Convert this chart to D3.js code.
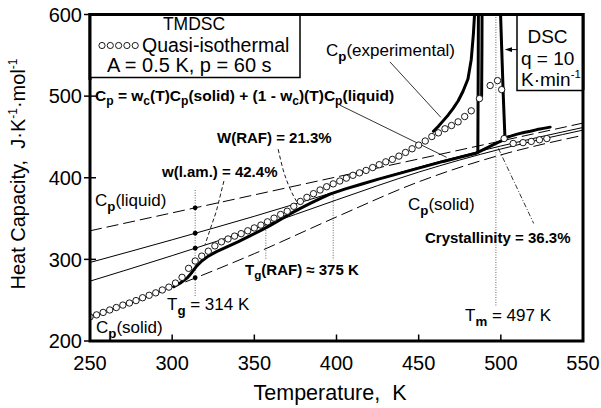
<!DOCTYPE html>
<html>
<head>
<meta charset="utf-8">
<script src="https://cdn.jsdelivr.net/npm/d3@7"></script>
<style>
  body { margin: 0; background: #fff; }
  text { font-family: Arial, "Liberation Sans", Helvetica, sans-serif; white-space: pre; fill: #000; }
</style>
</head>
<body>
<svg id="chart" width="601" height="408"></svg>
<script>
// ---- data ----
const xTicks = [250, 300, 350, 400, 450, 500, 550];
const yTicks = [200, 300, 400, 500, 600];

// baselines, all on the same temperature grid
const gridT = [250, 300, 350, 400, 450, 500, 550];
const cpLiquid = [335, 357, 379, 401, 423, 445, 467];
const cpSolid = [228, 266, 307, 352, 395, 428, 452];
const cpTwoPhase = [296.2, 324.0, 352.8, 383.2, 412.9, 438.9, 461.6];   // wc = 36.3 %
const cpThreePhase = [273.3, 304.6, 337.5, 372.8, 406.9, 435.2, 458.4]; // wc + W(RAF)

// quasi-isothermal TMDSC points
const quasiT = [250, 254, 258, 262, 266, 270, 274, 278, 282, 286, 290, 294, 298, 302, 306, 310, 314, 318,
  322, 326, 330, 334, 338, 342, 346, 350, 354, 358, 362, 366, 370, 374, 378, 382, 386, 390, 394, 398,
  402, 406, 410, 414, 418, 422, 426, 430, 434, 438, 442, 446, 450, 454, 458, 462, 466, 470, 474, 478,
  482, 487, 493.5, 498, 500.5, 502, 507.5, 513.5, 518.5, 523.5, 528];
const quasiCp = [229.5, 232, 235, 238, 241, 244, 246.5, 249.5, 253, 256, 259, 262.5, 266, 271, 278, 289, 298, 304,
  310, 316.5, 321.5, 325, 328.5, 331.5, 335, 338.5, 342, 346, 350.5, 355, 359, 365, 371, 376, 380.5, 385, 389, 392.5,
  396, 399.5, 403, 406, 409, 412.5, 416, 419.5, 422.5, 426.5, 431, 435.5, 440, 445, 450.5, 455, 460, 464, 468.5, 475,
  482, 497, 513, 519, 508, 448, 442, 443, 444.5, 446.5, 448];

// DSC heating trace at q = 10 K/min (two branches of the melting peak)
const dscT = [301, 305, 309, 312, 315, 318, 322, 327, 333, 340, 347, 354, 360, 366, 372, 378, 384, 390, 396,
  405, 415, 425, 435, 445, 455, 465, 475, 485, 486, 486.2, 486.4];
const dscCp = [266.5, 271, 277, 284, 292, 298, 304, 309.5, 315, 321.5, 328.5, 335.5, 342, 349, 356, 362.5, 368.5, 374.5, 380,
  386, 392, 398, 403.5, 409, 414.5, 420, 425, 430, 431, 520, 620];
const dscFootT = [486, 490, 494, 498, 502.5];
const dscFootCp = [431, 435, 439, 443, 447];
const dscBackT = [499.5, 500.5, 501.5, 502.5, 506, 510, 514, 518, 522, 526, 530];
const dscBackCp = [620, 560, 500, 449, 451, 453.5, 455.5, 457, 459, 460.5, 462];

// Cp(experimental)
const expT = [459, 462, 465, 468, 471, 474, 477, 480, 482, 483.3, 484, 484.3];
const expCp = [457, 463, 470, 477, 485, 494, 506, 521, 545, 576, 600, 620];
const expDropT = [488.6, 488.5, 488.3];
const expDropCp = [620, 560, 500];

// glass transition, the four values marked at Tg
const tg = 314;
const tgCp = [363.2, 332.0, 313.6, 277.5];

// dotted markers: [T, Cp from, Cp to]
const markers = [[314, 385, 254], [357, 348, 299], [398, 379, 299], [497, 600, 242]];

// leaders (T, Cp)
const leaderLam = [[331.5, 396], [329.5, 380], [327, 360], [324, 342], [320, 318]];
const leaderRaf = [[364.5, 435], [367.5, 410], [371, 390], [376, 370]];
const leaderCryst = [[498.5, 436], [520, 344]];
const pointerExp = [[432.5, 542], [463.5, 474]];
const pointerFormula = [[402, 489], [467, 425]];
const pointerDsc = [[525.9, 568], [525.9, 557], [503, 557]];

// ---- chart ----
const svg = d3.select('#chart');
const x = d3.scaleLinear().domain([250, 550]).range([90, 583]);
const y = d3.scaleLinear().domain([200, 600]).range([341, 14.5]);

svg.append('defs').append('clipPath').attr('id', 'plot')
  .append('rect').attr('x', 90).attr('y', 14.5).attr('width', 493).attr('height', 326.5);
svg.select('defs').append('marker').attr('id', 'arrow')
  .attr('viewBox', '0 0 10 10').attr('refX', 9).attr('refY', 5)
  .attr('markerWidth', 7).attr('markerHeight', 7).attr('orient', 'auto')
  .append('path').attr('d', 'M0,1.5 L10,5 L0,8.5 z').attr('fill', '#000');

const plot = svg.append('g').attr('clip-path', 'url(#plot)');

const line = d3.line().x(d => x(d[0])).y(d => y(d[1])).curve(d3.curveMonotoneX);
const straight = d3.line().x(d => x(d[0])).y(d => y(d[1]));
const zip = (a, b) => a.map((v, i) => [v, b[i]]);

// dotted vertical markers
markers.forEach(m => {
  plot.append('line')
    .attr('x1', x(m[0])).attr('x2', x(m[0]))
    .attr('y1', y(m[1])).attr('y2', y(m[2]))
    .attr('stroke', '#666').attr('stroke-width', 1).attr('stroke-dasharray', '1,1.5');
});

// baselines
plot.append('path').datum(zip(gridT, cpLiquid)).attr('d', line)
  .attr('fill', 'none').attr('stroke', '#000').attr('stroke-width', 1).attr('stroke-dasharray', '12,5');
plot.append('path').datum(zip(gridT, cpSolid)).attr('d', line)
  .attr('fill', 'none').attr('stroke', '#000').attr('stroke-width', 1).attr('stroke-dasharray', '12,5');
plot.append('path').datum(zip(gridT, cpTwoPhase)).attr('d', line)
  .attr('fill', 'none').attr('stroke', '#000').attr('stroke-width', 1);
plot.append('path').datum(zip(gridT, cpThreePhase)).attr('d', line)
  .attr('fill', 'none').attr('stroke', '#000').attr('stroke-width', 1);

// leaders
[leaderLam, leaderRaf].forEach(l => {
  plot.append('path').datum(l).attr('d', line)
    .attr('fill', 'none').attr('stroke', '#000').attr('stroke-width', 0.9).attr('stroke-dasharray', '4,2.5');
});
plot.append('path').datum(leaderCryst).attr('d', straight)
  .attr('fill', 'none').attr('stroke', '#000').attr('stroke-width', 0.8).attr('stroke-dasharray', '5,2,1,2');
[pointerExp, pointerFormula].forEach(l => {
  plot.append('path').datum(l).attr('d', straight)
    .attr('fill', 'none').attr('stroke', '#000').attr('stroke-width', 0.8);
});
plot.append('path').datum(pointerDsc).attr('d', straight)
  .attr('fill', 'none').attr('stroke', '#000').attr('stroke-width', 1).attr('marker-end', 'url(#arrow)');

// thick experimental traces
[zip(dscT, dscCp), zip(dscFootT, dscFootCp), zip(dscBackT, dscBackCp), zip(expT, expCp), zip(expDropT, expDropCp)]
  .forEach(d => {
    plot.append('path').datum(d).attr('d', straight)
      .attr('fill', 'none').attr('stroke', '#000').attr('stroke-width', 3)
      .attr('stroke-linejoin', 'round').attr('stroke-linecap', 'round');
  });

// quasi-isothermal circles
plot.selectAll('.quasi').data(zip(quasiT, quasiCp)).enter().append('circle')
  .attr('class', 'quasi')
  .attr('cx', d => x(d[0])).attr('cy', d => y(d[1])).attr('r', 3.2)
  .attr('fill', '#fff').attr('stroke', '#000').attr('stroke-width', 0.9);

// dots at Tg
plot.selectAll('.tgdot').data(tgCp).enter().append('circle')
  .attr('class', 'tgdot')
  .attr('cx', x(tg)).attr('cy', d => y(d)).attr('r', 2.4).attr('fill', '#000');

// frame + ticks
svg.append('rect').attr('x', 90).attr('y', 14.5).attr('width', 493).attr('height', 326.5)
  .attr('fill', 'none').attr('stroke', '#000').attr('stroke-width', 3);
yTicks.forEach(v => {
  svg.append('line').attr('x1', 84).attr('x2', 96).attr('y1', y(v)).attr('y2', y(v))
    .attr('stroke', '#000').attr('stroke-width', 1.5);
  svg.append('text').attr('x', 82).attr('y', y(v)).attr('dy', '0.36em')
    .attr('text-anchor', 'end').attr('font-size', 20).text(v);
});
xTicks.forEach(v => {
  svg.append('line').attr('x1', x(v)).attr('x2', x(v)).attr('y1', 341).attr('y2', 334.5)
    .attr('stroke', '#000').attr('stroke-width', 1.5);
  svg.append('text').attr('x', x(v)).attr('y', 370)
    .attr('text-anchor', 'middle').attr('font-size', 20).text(v);
});

// rich text helper: parts are strings or [string, 'sub'|'sup']
function label(px, py, parts, size, weight, anchor) {
  const t = svg.append('text').attr('x', px).attr('y', py)
    .attr('font-size', size).attr('font-weight', weight || 'normal')
    .attr('text-anchor', anchor || 'start');
  let shift = 0;
  parts.forEach(p => {
    const s = typeof p === 'string' ? p : p[0];
    const kind = typeof p === 'string' ? null : p[1];
    const target = kind === 'sub' ? size * 0.28 : kind === 'sup' ? -size * 0.4 : 0;
    const ts = t.append('tspan').attr('dy', target - shift).text(s);
    if (kind === 'sub') ts.attr('font-size', size * 0.78).attr('font-weight', 'bold');
    if (kind === 'sup') ts.attr('font-size', size * 0.6);
    shift = target;
  });
  return t;
}

// axis titles
svg.append('text').attr('x', 330).attr('y', 400).attr('text-anchor', 'middle')
  .attr('font-size', 21.5).text('Temperature,  K');
label(0, 0, ['Heat Capacity,  J·K', ['-1', 'sup'], '·mol', ['-1', 'sup']], 20, 'normal', 'middle')
  .attr('transform', 'translate(25,174) rotate(-90)');

// legend boxes
svg.append('rect').attr('x', 90).attr('y', 14.5).attr('width', 210).attr('height', 63)
  .attr('fill', '#fff').attr('stroke', '#000').attr('stroke-width', 1.5);
svg.append('rect').attr('x', 517).attr('y', 14.5).attr('width', 66).attr('height', 76)
  .attr('fill', '#fff').attr('stroke', '#000').attr('stroke-width', 1.5);
svg.append('path').attr('d', 'M90,14.5 H583 V90').attr('fill', 'none').attr('stroke', '#000').attr('stroke-width', 3);
svg.append('line').attr('x1', 90).attr('x2', 90).attr('y1', 13).attr('y2', 80)
  .attr('stroke', '#000').attr('stroke-width', 3);

label(194, 30, ['TMDSC'], 17.5, 'normal', 'middle');
[0, 1, 2, 3, 4].forEach(i => {
  svg.append('circle').attr('cx', 102 + i * 8.3).attr('cy', 45.5).attr('r', 3.1)
    .attr('fill', '#fff').attr('stroke', '#000').attr('stroke-width', 0.9);
});
label(142, 52, ['Quasi-isothermal'], 19.5);
label(107, 71.5, ['A = 0.5 K, p = 60 s'], 20);

label(547.5, 43, ['DSC'], 19, 'normal', 'middle');
label(521, 65, ['q = 10'], 19);
label(521, 86, ['K·min', ['-1', 'sup']], 19);

// annotations
label(95, 101, ['C', ['p', 'sub'], ' = w', ['c', 'sub'], '(T)C', ['p', 'sub'], '(solid) + (1 - w', ['c', 'sub'], ')(T)C', ['p', 'sub'], '(liquid)'], 15.5, 'bold');
label(326, 56, ['C', ['p', 'sub'], '(experimental)'], 17);
label(217, 143, ['W(RAF) = 21.3%'], 15, 'bold');
label(162, 177, ['w(l.am.) = 42.4%'], 15, 'bold');
label(95, 206, ['C', ['p', 'sub'], '(liquid)'], 17);
label(408, 210, ['C', ['p', 'sub'], '(solid)'], 17);
label(425, 243, ['Crystallinity = 36.3%'], 15, 'bold');
label(245, 275, ['T', ['g', 'sub'], '(RAF) ≈ 375 K'], 15, 'bold');
label(167, 310, ['T', ['g', 'sub'], ' = 314 K'], 17);
label(96, 333, ['C', ['p', 'sub'], '(solid)'], 17);
label(465, 321, ['T', ['m', 'sub'], ' = 497 K'], 17);
</script>
</body>
</html>
